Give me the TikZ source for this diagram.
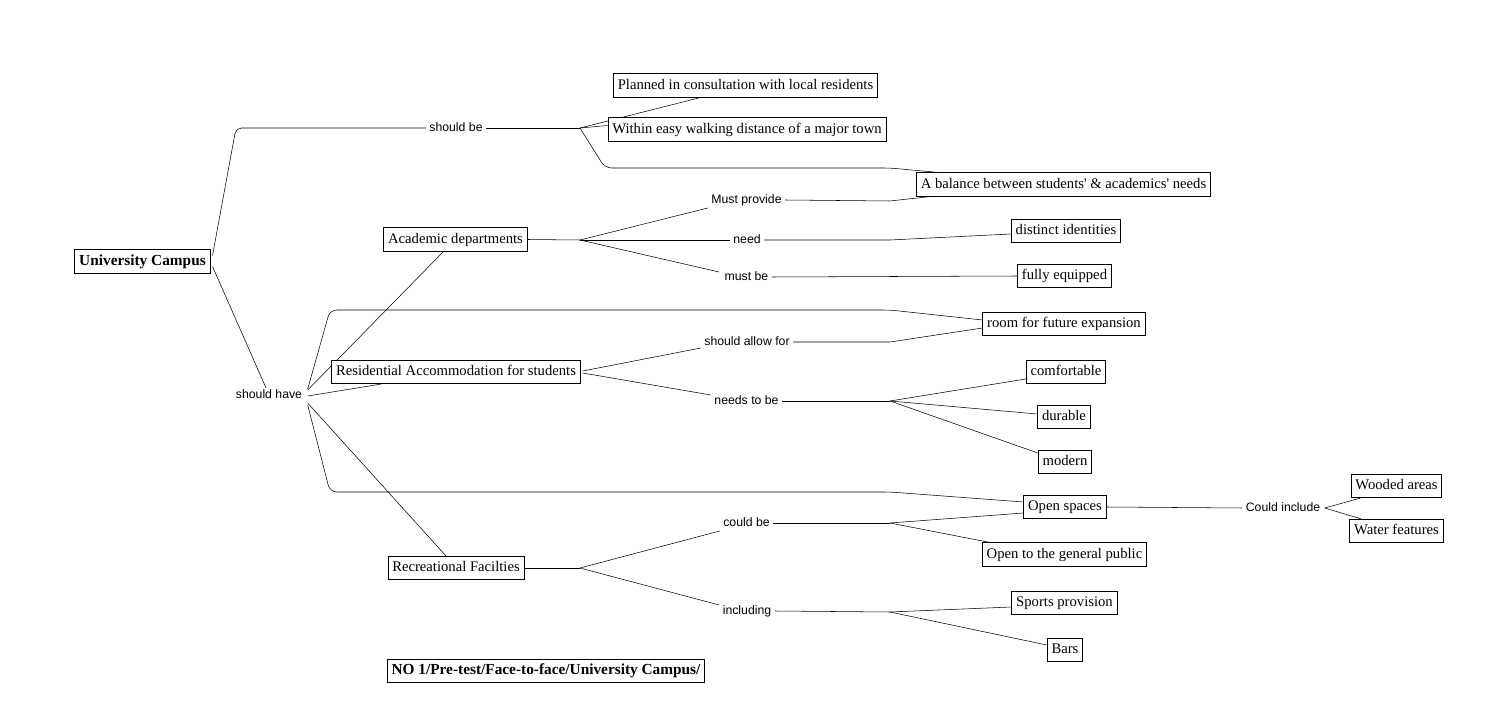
\documentclass[tikz,border=0pt]{standalone}
\usepackage{fontspec}
\setmainfont{Liberation Serif}[Ligatures=TeXOff]
\newfontfamily\lblfont{Liberation Sans}
\usetikzlibrary{calc,backgrounds}
\begin{document}
\begin{tikzpicture}[x=0.75pt,y=-0.75pt,
  box/.style={draw=black,line width=0.75pt,fill=white,inner xsep=3.2pt,inner ysep=3.4pt,
    text height=8pt,text depth=2.5pt,font=\fontsize{11}{13}\selectfont},
  bbox/.style={box,font=\fontsize{11.5}{13}\selectfont\bfseries},
  lbl/.style={inner xsep=2.5pt,inner ysep=1pt,text height=6.8pt,text depth=1.5pt,
    font=\lblfont\fontsize{9.2}{11}\selectfont},
  conn/.style={line width=0.9pt,black}]
\useasboundingbox (0,0) rectangle (1486,723);
% boxes
\node[bbox] (UC) at (142.5,261.5) {University Campus};
\node[box] (P) at (745.5,85.5) {Planned in consultation with local residents};
\node[box] (W) at (747,129.5) {Within easy walking distance of a major town};
\node[box] (B) at (1063.5,184.5) {A balance between students' \& academics' needs};
\node[box] (AD) at (455.5,239.5) {Academic departments};
\node[box] (DI) at (1066,231) {distinct identities};
\node[box] (FE) at (1064.5,276) {fully equipped};
\node[box] (R) at (1064,324) {room for future expansion};
\node[box] (RA) at (456,372) {Residential Accommodation for students};
\node[box] (CO) at (1066,372) {comfortable};
\node[box] (DU) at (1064,417) {durable};
\node[box] (MO) at (1065,462) {modern};
\node[box] (OS) at (1065,507) {Open spaces};
\node[box] (WA) at (1396.5,486) {Wooded areas};
\node[box] (WF) at (1396.5,531) {Water features};
\node[box] (OP) at (1064.5,554.5) {Open to the general public};
\node[box] (RF) at (456,568) {Recreational Facilties};
\node[box] (SP) at (1064.5,603) {Sports provision};
\node[box] (BA) at (1065,650) {Bars};
\node[bbox] (NO) at (546,671) {NO 1/Pre-test/Face-to-face/University Campus/};
% labels
\node[lbl] (sb) at (456,128) {should be};
\node[lbl] (sh) at (269,395) {should have};
\node[lbl] (mp) at (746.5,200) {Must provide};
\node[lbl] (nd) at (747,240) {need};
\node[lbl] (mb) at (746.5,277) {must be};
\node[lbl] (sa) at (747,342) {should allow for};
\node[lbl] (nb) at (746.5,401) {needs to be};
\node[lbl] (cb) at (746.5,523) {could be};
\node[lbl] (inc) at (747,611) {including};
\node[lbl] (ci) at (1283,508) {Could include};
% fan points
\coordinate (fan1) at (580,128);
\coordinate (fa) at (580,240);
\coordinate (fn) at (890,401);
\coordinate (frf) at (580,568);
\coordinate (fcb) at (890,523);
\coordinate (fi) at (890,612);
\begin{scope}[on background layer,conn]
\draw[rounded corners=4pt] ($(UC.east)+(2,-6)$) -- (236,128) -- (sb.west);
\draw (sb.east) -- (fan1);
\draw (fan1) -- ($(P.south)+(-45,0)$);
\draw (fan1) -- ($(W.west)+(0,-4)$);
\draw[rounded corners=5pt] (fan1) -- (605,168) -- (890,168) -- ($(B.north)+(-125,0)$);
\draw ($(UC.east)+(2,5)$) -- ($(sh.north)+(-3,0)$);
\draw ($(sh.east)+(2,-5)$) -- ($(AD.south)+(-12,0)$);
\draw[rounded corners=5pt] ($(sh.east)+(2,-6)$) -- (330,310) -- (890,310) -- ($(R.west)+(0,-4)$);
\draw ($(sh.east)+(2,1)$) -- ($(RA.south west)+(50,0)$);
\draw ($(sh.east)+(2,8)$) -- ($(RF.north)+(-10,0)$);
\draw[rounded corners=5pt] ($(sh.east)+(2,10)$) -- (330,492) -- (890,492) -- ($(OS.west)+(0,-5)$);
\draw (AD.east) -- (fa);
\draw (fa) -- ($(mp.west)+(0,8)$);
\draw (fa) -- (nd.west);
\draw (fa) -- ($(mb.west)+(-2,-5)$);
\draw (mp.east) -- (890,201) -- ($(B.south)+(-133,0)$);
\draw (nd.east) -- (890,240) -- ($(DI.west)+(0,3)$);
\draw (mb.east) -- (FE.west);
\draw ($(RA.east)+(2,-1)$) -- ($(sa.west)+(0,6)$);
\draw ($(RA.east)+(2,1)$) -- ($(nb.west)+(0,-6)$);
\draw (sa.east) -- (890,342) -- ($(R.west)+(0,4)$);
\draw (nb.east) -- (fn);
\draw (fn) -- ($(CO.west)+(0,7)$);
\draw (fn) -- ($(DU.west)+(0,-3)$);
\draw (fn) -- ($(MO.west)+(0,-9)$);
\draw (OS.east) -- (ci.west);
\draw ($(ci.east)+(1,0)$) -- ($(WA.south west)+(10,0)$);
\draw ($(ci.east)+(1,0)$) -- ($(WF.north west)+(12,0)$);
\draw (RF.east) -- (frf);
\draw (frf) -- ($(cb.west)+(0,8)$);
\draw (frf) -- ($(inc.west)+(0,-6)$);
\draw (cb.east) -- (fcb);
\draw (fcb) -- ($(OS.west)+(0,6)$);
\draw (fcb) -- ($(OP.north west)+(8,0)$);
\draw (inc.east) -- (fi);
\draw (fi) -- ($(SP.west)+(0,4)$);
\draw (fi) -- ($(BA.west)+(0,-5)$);
\end{scope}
\end{tikzpicture}
\end{document}
